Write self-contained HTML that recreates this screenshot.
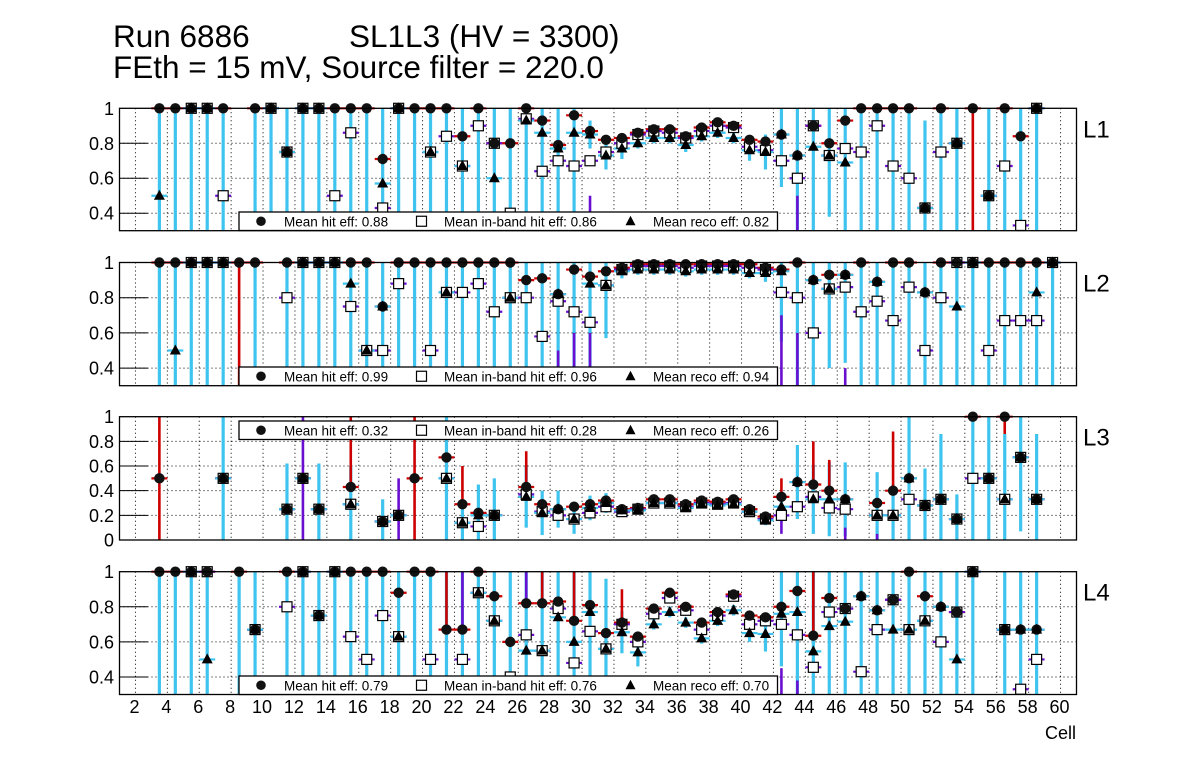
<!DOCTYPE html>
<html><head><meta charset="utf-8">
<style>
html,body{margin:0;padding:0;background:#fff;}
svg{display:block;font-family:"Liberation Sans",Arial,sans-serif;}
</style></head>
<body>
<svg id="chart" width="1196" height="772" viewBox="0 0 1196 772" xmlns="http://www.w3.org/2000/svg">
<rect x="0" y="0" width="1196" height="772" fill="#fff"/>
<text x="113" y="47" font-size="31.5">Run 6886</text>
<text x="349" y="47" font-size="31.5">SL1L3 (HV = 3300)</text>
<text x="113" y="78" font-size="31.5">FEth = 15 mV, Source filter = 220.0</text>
<g id="plots"></g>
<text x="1076" y="739" font-size="18" text-anchor="end">Cell</text>
</svg>
<script>
// ---------- data ----------
const xTicks = [2,4,6,8,10,12,14,16,18,20,22,24,26,28,30,32,34,36,38,40,42,44,46,48,50,52,54,56,58,60];
const panelNames = ["L1","L2","L3","L4"];
const meanHit = ["0.88","0.99","0.32","0.79"];
const meanInBand = ["0.86","0.96","0.28","0.76"];
const meanReco = ["0.82","0.94","0.26","0.70"];

const l1Cells = [3.5,4.5,5.5,6.5,7.5,9.5,10.5,11.5,12.5,13.5,14.5,15.5,16.5,17.5,18.5,19.5,20.5,21.5,22.5,23.5,24.5,25.5,26.5,27.5,28.5,29.5,30.5,31.5,32.5,33.5,34.5,35.5,36.5,37.5,38.5,39.5,40.5,41.5,42.5,43.5,44.5,45.5,46.5,47.5,48.5,49.5,50.5,51.5,52.5,53.5,54.5,55.5,56.5,57.5,58.5];
const l1Hit = [1,1,1,1,1,1,1,.75,1,1,1,1,1,.71,1,1,1,1,.84,1,.8,.8,1,.93,.79,.96,.87,.82,.83,.86,.88,.88,.84,.89,.92,.9,.82,.81,.85,.73,.9,.8,.93,1,1,1,1,.43,1,.8,1,.5,1,.84,1];
const l1InBand = [null,null,1,1,.5,null,1,.75,1,1,.5,.86,null,.43,1,null,.75,.84,.67,.9,.8,.4,.94,.64,.7,.67,.7,.75,.8,.85,.87,.86,.83,.87,.9,.89,.78,.76,.7,.6,.9,.73,.77,.75,.9,.67,.6,.43,.75,.8,null,.5,.67,.33,1];
const l1Reco = [.5,null,1,1,null,null,1,.75,1,1,null,null,null,.57,1,null,.75,null,.67,null,.6,null,.93,.86,.77,.86,.85,.73,.77,.8,.83,.83,.79,.84,.86,.83,.76,.75,.85,.73,.78,.73,.69,null,null,null,null,.43,null,.8,null,.5,null,null,1];
const l1Err = [1,1,1,1,1,1,1,1,1,1,1,1,1,1,1,1,1,1,1,1,1,1,1,1,1,1,.08,.08,.06,.03,.03,.03,.04,.03,.03,.03,.06,.1,.3,1,1,.35,1,1,1,1,1,.5,1,1,0,1,1,1,1];
const l1RedX = [54.5], l1RedLo = [0], l1RedHi = [1];
const l1PurX = [28.5,29.5,30.5,43.5], l1PurLo = [.3,.3,.3,.3], l1PurHi = [.4,.4,.5,.5];

const l2Cells = [3.5,4.5,5.5,6.5,7.5,8.5,9.5,11.5,12.5,13.5,14.5,15.5,16.5,17.5,18.5,19.5,20.5,21.5,22.5,23.5,24.5,25.5,26.5,27.5,28.5,29.5,30.5,31.5,32.5,33.5,34.5,35.5,36.5,37.5,38.5,39.5,40.5,41.5,42.5,43.5,44.5,45.5,46.5,47.5,48.5,49.5,50.5,51.5,52.5,53.5,54.5,55.5,56.5,57.5,58.5,59.5];
const l2Hit = [1,1,1,1,1,1,1,1,1,1,1,1,1,.75,1,1,1,1,1,1,1,1,.9,.91,.82,.96,.92,.95,.97,.99,.99,.99,.99,.99,.99,.99,.99,.97,.96,1,.9,.93,.93,1,.89,1,1,.83,1,1,1,1,1,1,1,1];
const l2InBand = [null,null,1,1,1,null,null,.8,1,1,1,.75,.5,.5,.88,null,.5,.83,.83,.88,.72,.8,.8,.58,.78,.72,.66,.87,.96,.98,.98,.98,.97,.98,.98,.98,.97,.96,.83,.8,.6,.85,.86,.72,.78,.67,.86,.5,.8,1,1,.5,.67,.67,.67,1];
const l2Reco = [null,.5,1,1,1,null,null,null,1,1,1,.88,.5,.75,null,null,null,.83,null,null,null,.8,null,null,.82,null,.88,.87,.95,.96,.96,.96,.95,.96,.96,.96,.94,.94,.95,null,.9,.85,.93,null,.89,null,null,.83,null,.75,1,null,null,null,.83,1];
const l2Err = [1,1,1,1,1,0,1,1,1,1,1,1,1,1,1,1,1,1,1,1,1,1,1,1,1,1,1,.3,.04,.03,.03,.03,.03,.03,.03,.03,.03,.05,.4,1,1,.45,.5,1,1,1,1,1,1,1,1,1,1,1,1,1];
const l2RedX = [8.5], l2RedLo = [0], l2RedHi = [1];
const l2PurX = [28.5,29.5,30.5,42.5,43.5,46.5], l2PurLo = [.3,.3,.3,.3,.3,.3], l2PurHi = [.5,.6,.6,.7,.6,.4];

const l3Cells = [3.5,7.5,11.5,12.5,13.5,15.5,17.5,18.5,19.5,21.5,22.5,23.5,24.5,26.5,27.5,28.5,29.5,30.5,31.5,32.5,33.5,34.5,35.5,36.5,37.5,38.5,39.5,40.5,41.5,42.5,43.5,44.5,45.5,46.5,48.5,49.5,50.5,51.5,52.5,53.5,54.5,55.5,56.5,57.5,58.5];
const l3Hit = [.5,.5,.25,.5,.25,.43,.15,.2,.5,.67,.29,.22,.2,.43,.29,.25,.27,.29,.32,.25,.26,.33,.33,.29,.32,.31,.33,.25,.19,.35,.47,.45,.4,.33,.3,.4,.5,.28,.33,.17,1,.5,1,.67,.33];
const l3InBand = [null,.5,.25,.5,.25,.29,.15,.2,null,.5,.14,.11,.2,.37,.23,.2,.17,.22,.27,.23,.25,.3,.3,.27,.3,.29,.3,.23,.17,.2,.27,.35,.26,.25,.2,.2,.33,.28,.33,.17,.5,.5,.33,.67,.33];
const l3Reco = [null,.5,.25,.5,.25,.29,.15,.2,null,.5,.14,.2,.2,.35,.22,.25,.17,.26,.3,.24,.24,.3,.3,.26,.29,.28,.29,.23,.16,.27,.47,.33,.33,.33,.2,.2,.5,.28,.33,.17,null,.5,.33,.67,.33];
const l3Err = [0,.5,.37,0,.37,.31,.18,0,0,1,.15,.25,.3,.25,.18,.15,.12,.1,.08,.03,.03,.03,.03,.03,.03,.03,.03,.03,.04,.12,.3,.28,.3,.3,.35,.25,1,.3,.53,.2,1,1,.53,.6,.53];
const l3RedX = [3.5,15.5,19.5,22.5,26.5,42.5,44.5,45.5,49.5,56.5], l3RedLo = [0,.43,0,.29,.43,.35,.45,.4,.4,.86], l3RedHi = [1,1,1,.6,.72,.5,.8,.65,.88,1];
const l3PurX = [12.5,18.5,42.5,46.5,48.5], l3PurLo = [0,0,.05,0,0], l3PurHi = [1,.5,.2,.1,.05];

const l4Cells = [3.5,4.5,5.5,6.5,8.5,9.5,11.5,12.5,13.5,14.5,15.5,16.5,17.5,18.5,19.5,20.5,21.5,22.5,23.5,24.5,25.5,26.5,27.5,28.5,29.5,30.5,31.5,32.5,33.5,34.5,35.5,36.5,37.5,38.5,39.5,40.5,41.5,42.5,43.5,44.5,45.5,46.5,47.5,48.5,49.5,50.5,51.5,52.5,53.5,54.5,56.5,57.5,58.5];
const l4Hit = [1,1,1,1,1,.67,1,1,.75,1,1,1,1,.88,1,1,.67,.67,1,.86,.6,.82,.82,.83,.72,.81,.65,.71,.63,.79,.88,.8,.71,.77,.87,.75,.74,.8,.89,.635,.85,.79,.86,.78,.84,1,.86,.8,.77,1,.67,.67,.67];
const l4InBand = [null,null,1,1,null,.67,.8,1,.75,1,.63,.5,.75,.63,null,.5,null,.5,.88,.72,.4,.64,.55,.79,.48,.66,.56,.7,.6,.76,.85,.78,.67,.75,.86,.7,.72,.7,.64,.455,.77,.79,.43,.67,.84,.67,.72,.6,.77,1,.67,.33,.5];
const l4Reco = [null,null,1,.5,null,.67,null,1,.75,1,null,null,null,.63,null,null,null,null,.88,.72,null,.55,.55,.74,.6,.77,.56,.655,.54,.7,.77,.71,.62,.72,.78,.65,.645,.76,.77,.546,.69,.715,.86,.78,.67,.67,.72,.8,.5,1,.67,.67,.67];
const l4Err = [1,1,1,1,1,1,1,1,1,1,1,1,1,1,1,1,1,1,1,1,1,1,1,1,1,1,.4,.12,.08,.03,.03,.03,.03,.03,.03,.05,.1,.3,1,1,1,1,1,1,1,1,1,1,1,1,1,1,1];
const l4RedX = [21.5,27.5,29.5,32.5,44.5], l4RedLo = [.67,.82,.72,.71,.63], l4RedHi = [1,1,1,.9,1];
const l4PurX = [22.5,26.5,42.5,43.5], l4PurLo = [.67,.82,.3,.3], l4PurHi = [1,1,.45,.38];

// ---------- layout ----------
const X0 = 119.5, X1 = 1076.5, CMIN = 1, CMAX = 61;
const panels = [
  {top:108.3, bot:230.7, ymin:0.3, yTicks:[1,0.8,0.6,0.4], yLab:["1","0.8","0.6","0.4"], legTop:212, cells:l1Cells, hit:l1Hit, inb:l1InBand, reco:l1Reco, err:l1Err, rx:l1RedX, rlo:l1RedLo, rhi:l1RedHi, px:l1PurX, plo:l1PurLo, phi:l1PurHi},
  {top:262.5, bot:385.7, ymin:0.3, yTicks:[1,0.8,0.6,0.4], yLab:["1","0.8","0.6","0.4"], legTop:367, cells:l2Cells, hit:l2Hit, inb:l2InBand, reco:l2Reco, err:l2Err, rx:l2RedX, rlo:l2RedLo, rhi:l2RedHi, px:l2PurX, plo:l2PurLo, phi:l2PurHi},
  {top:416.7, bot:540, ymin:0, yTicks:[1,0.8,0.6,0.4,0.2,0], yLab:["1","0.8","0.6","0.4","0.2","0"], legTop:421, cells:l3Cells, hit:l3Hit, inb:l3InBand, reco:l3Reco, err:l3Err, rx:l3RedX, rlo:l3RedLo, rhi:l3RedHi, px:l3PurX, plo:l3PurLo, phi:l3PurHi},
  {top:571.7, bot:694.5, ymin:0.3, yTicks:[1,0.8,0.6,0.4], yLab:["1","0.8","0.6","0.4"], legTop:676, cells:l4Cells, hit:l4Hit, inb:l4InBand, reco:l4Reco, err:l4Err, rx:l4RedX, rlo:l4RedLo, rhi:l4RedHi, px:l4PurX, plo:l4PurLo, phi:l4PurHi}
];
const NS = "http://www.w3.org/2000/svg";
const root = document.getElementById("plots");
function xs(c){ return X0 + (c - CMIN) * (X1 - X0) / (CMAX - CMIN); }
function mk(tag, attrs, parent){ const e = document.createElementNS(NS, tag); for (const k in attrs) e.setAttribute(k, attrs[k]); parent.appendChild(e); return e; }
const BLUE="#3ec4ee", RED="#cc0000", PUR="#6a0fd0";

panels.forEach((p, pi) => {
  const ys = v => p.bot - (v - p.ymin) * (p.bot - p.top) / (1 - p.ymin);
  const clip = v => Math.max(p.top, Math.min(p.bot, ys(v)));
  const g = mk("g", {}, root);
  
  
  xTicks.forEach(t => {
    const l = mk("line", {x1:xs(t), x2:xs(t), y1:p.top, y2:p.bot, stroke:"#000", "stroke-width":1, "stroke-dasharray":"1,3"}, g);
    
    
  });
  p.yTicks.forEach((t, i) => {
    const y = ys(t);
    if (t < 1 && t > p.ymin) {
      const l = mk("line", {x1:X0, x2:X1, y1:y, y2:y, stroke:"#000", "stroke-width":1, "stroke-dasharray":"1,3"}, g);
      
      
      const tk = mk("line", {x1:X0, x2:X0 + 28, y1:y, y2:y, stroke:"#000", "stroke-width":1}, g);
      
      
    }
    const tx = mk("text", {x:114, y:y + 6.5, "font-size":18, "text-anchor":"end"}, g);
    tx.textContent = p.yLab[i];
    
    
  });
  p.cells.forEach((c, i) => {
    const e = p.err[i]; if (!e) return;
    const ctr = p.reco[i] ?? p.inb[i] ?? p.hit[i];
    const l = mk("line", {x1:xs(c), x2:xs(c), y1:clip(ctr + e), y2:clip(ctr - e), stroke:BLUE, "stroke-width":3.2}, g);
    
    
  });
  p.rx.forEach((c, i) => {
    const l = mk("line", {x1:xs(c), x2:xs(c), y1:clip(p.rhi[i]), y2:clip(p.rlo[i]), stroke:RED, "stroke-width":2.6}, g);
    
    
  });
  p.px.forEach((c, i) => {
    const l = mk("line", {x1:xs(c), x2:xs(c), y1:clip(p.phi[i]), y2:clip(p.plo[i]), stroke:PUR, "stroke-width":2.6}, g);
    
    
  });
  const hbar = (arr, col, nm) => p.cells.forEach((c, i) => {
    const v = arr[i]; if (v == null || v < p.ymin) return;
    const l = mk("line", {x1:xs(c - 0.5), x2:xs(c + 0.5), y1:ys(v), y2:ys(v), stroke:col, "stroke-width":2.2}, g);
    
    
  });
  hbar(p.hit, RED, 'hit-x-bar'); hbar(p.inb, PUR, 'inband-x-bar'); hbar(p.reco, BLUE, 'reco-x-bar');
  p.cells.forEach((c, i) => {
    const v = p.inb[i]; if (v == null || v < p.ymin) return;
    const s = mk("rect", {x:xs(c) - 5, y:ys(v) - 5, width:10, height:10, fill:"#fff", stroke:"#000", "stroke-width":1.2}, g);
    
    
  });
  p.cells.forEach((c, i) => {
    const v = p.hit[i]; if (v == null || v < p.ymin) return;
    const d = mk("circle", {cx:xs(c), cy:ys(v), r:5.2, fill:"#111"}, g);
    
    
  });
  p.cells.forEach((c, i) => {
    const v = p.reco[i]; if (v == null || v < p.ymin) return;
    const x = xs(c), y = ys(v);
    const t = mk("polygon", {points:`${x},${y-6} ${x-5.5},${y+4} ${x+5.5},${y+4}`, fill:"#000"}, g);
    
    
  });
  const fr = mk("rect", {x:X0, y:p.top, width:X1 - X0, height:p.bot - p.top, fill:"none", stroke:"#000", "stroke-width":1.3}, g);
  
  
  const pl = mk("text", {x:1083, y:(p.top + 29), "font-size":24}, g);
  pl.textContent = panelNames[pi];
  
  
  const lg = mk("g", {}, g);
  
  
  const ly = p.legTop, lh = 18.5, cy = ly + lh / 2;
  mk("rect", {x:239, y:ly, width:538.5, height:lh, fill:"#fff", stroke:"#000", "stroke-width":1.3}, lg);
  const e1 = mk("circle", {cx:261, cy:cy, r:4.8, fill:"#111"}, lg);
  
  
  const t1 = mk("text", {x:284, y:cy + 5, "font-size":13.5}, lg);
  t1.textContent = "Mean hit  eff: " + meanHit[pi];
  
  
  const e2 = mk("rect", {x:416.5, y:cy - 5, width:10, height:10, fill:"#fff", stroke:"#000", "stroke-width":1.2}, lg);
  
  
  const t2 = mk("text", {x:444, y:cy + 5, "font-size":13.5}, lg);
  t2.textContent = "Mean in-band hit eff: " + meanInBand[pi];
  
  
  const e3 = mk("polygon", {points:`630.5,${cy-5.5} 625.5,${cy+4} 635.5,${cy+4}`, fill:"#000"}, lg);
  
  
  const t3 = mk("text", {x:653, y:cy + 5, "font-size":13.5}, lg);
  t3.textContent = "Mean reco eff: " + meanReco[pi];
  
  
});
xTicks.forEach(t => {
  const tx = mk("text", {x:xs(t) - 1, y:713, "font-size":18, "text-anchor":"middle"}, root);
  tx.textContent = t;
  
  
});
</script>
</body></html>
